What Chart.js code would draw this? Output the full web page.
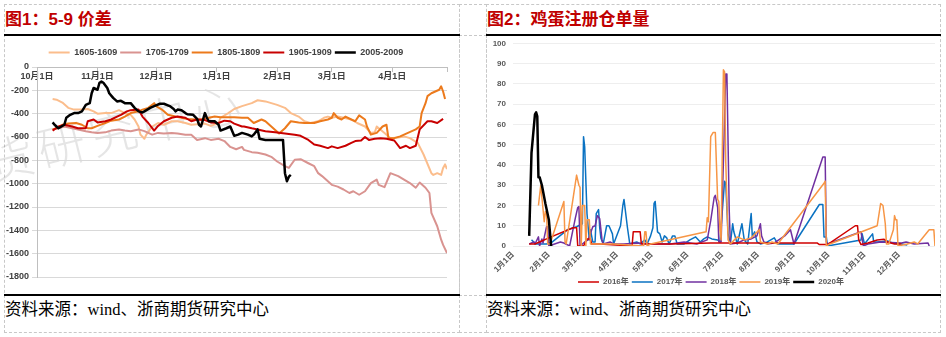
<!DOCTYPE html>
<html lang="zh-CN">
<head>
<meta charset="utf-8">
<title>5-9 价差 / 鸡蛋注册仓单量</title>
<script src="https://cdn.jsdelivr.net/npm/chart.js@4.4.1/dist/chart.umd.min.js"></script>
<style>
  html, body { margin: 0; padding: 0; background: #fff; }
  body { width: 946px; height: 337px; position: relative; overflow: hidden;
         font-family: "Liberation Sans", "Noto Sans CJK SC", sans-serif; }
  .cell { position: absolute; border: 1px dashed #c8c8c8; box-sizing: border-box; }
  .rule { position: absolute; height: 2px; background: #000; }
  .title { position: absolute; top: 9px; font-size: 17px; font-weight: bold; color: #c00000;
           line-height: 22px; white-space: nowrap; }
  .source { position: absolute; top: 300px; font-size: 16.5px; line-height: 20px; color: #000;
            font-family: "Liberation Serif", "Noto Sans CJK SC", serif; white-space: nowrap; }
  .mark { position: absolute; left: -14px; top: 126px; font-size: 48px; letter-spacing: 5px;
          color: rgba(0, 0, 0, 0.10); transform: rotate(-14deg); transform-origin: left center;
          white-space: nowrap; font-family: "Noto Sans CJK SC", sans-serif; font-weight: 300; }
  canvas { position: absolute; }
</style>
</head>
<body>
  <div class="cell" style="left:4px;top:4px;width:456px;height:329px"></div>
  <div class="cell" style="left:459px;top:4px;width:28px;height:32px"></div>
  <div class="cell" style="left:459px;top:35px;width:28px;height:261px"></div>
  <div class="cell" style="left:459px;top:295px;width:28px;height:38px"></div>
  <div class="cell" style="left:486px;top:4px;width:455px;height:329px"></div>

  <div class="title" style="left:5px">图1：5-9 价差</div>
  <div class="title" style="left:487px">图2：鸡蛋注册仓单量</div>
  <div class="rule" style="left:4px;top:34px;width:456px"></div>
  <div class="rule" style="left:486px;top:34px;width:455px"></div>
  <div class="rule" style="left:4px;top:294px;width:456px"></div>
  <div class="rule" style="left:486px;top:294px;width:455px"></div>
  <div class="source" style="left:5px">资料来源：wind、浙商期货研究中心</div>
  <div class="source" style="left:487px">资料来源：wind、浙商期货研究中心</div>

  <div class="mark">货研究中心</div>
  <canvas id="spreadChart" width="453" height="258" style="left:5px;top:36px"></canvas>
  <canvas id="receiptChart" width="453" height="260" style="left:487px;top:36px"></canvas>

<script>
// ---- 图1：5-9 价差（横轴：自10月1日起的天数）----
const spreadMonthDays = [0, 31, 61, 92, 123, 151, 182, 210];
const spreadMonthLabels = ['10月1日', '11月1日', '12月1日', '1月1日', '2月1日', '3月1日', '4月1日', ''];
const spreadNames = ['1605-1609', '1705-1709', '1805-1809', '1905-1909', '2005-2009'];

const days1605 = [8, 10, 13, 16, 19, 23, 26, 29, 31, 35, 38, 42, 45, 48, 50, 52, 53, 55, 56, 59, 62, 65, 69, 72, 76, 79, 82, 86, 89, 93, 94, 98, 101, 105,
  110, 113, 117, 120, 123, 127, 130, 134, 137, 140, 144, 147, 149, 151, 154, 157, 161, 164, 168, 171, 173, 174, 178, 181, 185, 188, 191, 195, 198, 202, 203, 205, 207, 208, 209, 210];
const spread1605 = [-275, -280, -305, -350, -365, -365, -360, -380, -400, -395, -395, -370, -395, -410, -450, -510, -580, -615, -580, -510, -480, -495, -465, -465, -480, -495, -490, -485, -505, -480, -435, -395, -360, -335,
  -310, -285, -295, -310, -325, -350, -395, -425, -465, -480, -465, -435, -425, -435, -425, -435, -450, -480, -510, -565, -560, -510, -565, -610, -605, -595, -610, -650, -750, -910, -925, -910, -925, -865, -835, -875];

const days1705 = [8, 11, 14, 18, 21, 25, 28, 31, 35, 38, 42, 45, 48, 52, 55, 59, 62, 65, 69, 72, 76, 79, 82, 86, 89, 93, 96, 99, 102, 105,
  106, 110, 113, 117, 120, 123, 127, 129, 132, 135, 139, 142, 144, 146, 149, 151, 154, 157, 160, 162, 165, 168, 171, 174, 175, 178, 181, 185, 188, 191, 194, 196, 199, 201, 202, 205, 207, 208, 210];
const spread1705 = [-535, -525, -510, -525, -535, -550, -560, -565, -560, -545, -535, -545, -550, -535, -550, -580, -565, -570, -565, -570, -580, -580, -625, -610, -625, -615, -635, -685, -705, -685,
  -710, -730, -735, -750, -770, -810, -850, -865, -795, -790, -825, -850, -910, -935, -980, -1010, -1025, -1050, -1080, -1065, -1095, -1065, -995, -965, -1010, -1030, -910, -935, -965, -995, -1035, -990, -1035, -1080, -1250, -1365, -1480, -1525, -1595];

const days1805 = [8, 10, 13, 16, 20, 23, 26, 28, 31, 35, 38, 42, 45, 48, 52, 54, 57, 60, 61, 64, 67, 71, 74, 77, 81, 84, 88, 91, 94, 98, 101, 105,
  108, 111, 115, 117, 120, 124, 127, 130, 134, 137, 142, 145, 149, 151, 152, 154, 156, 158, 161, 163, 165, 168, 169, 171, 174, 177, 179, 180, 183, 186, 190, 194, 196, 197, 199, 200, 202, 204, 206, 207, 208, 209];
const spread1805 = [-535, -525, -495, -485, -480, -495, -525, -525, -505, -480, -460, -450, -425, -395, -380, -365, -350, -310, -335, -365, -410, -425, -435, -445, -450, -450, -435, -425, -430, -430, -430, -435,
  -435, -480, -450, -465, -510, -570, -525, -465, -475, -480, -480, -465, -450, -435, -395, -435, -450, -425, -450, -465, -415, -450, -510, -580, -565, -510, -495, -610, -610, -595, -565, -535, -510, -395, -310, -250, -225, -210, -195, -165, -210, -275];

const days1905 = [8, 11, 14, 18, 21, 25, 26, 29, 31, 35, 38, 41, 43, 46, 48, 52, 54, 57, 60, 62, 65, 69, 72, 76, 79, 82, 86, 89, 93, 96, 99, 101, 105,
  106, 110, 113, 117, 122, 127, 132, 135, 139, 142, 145, 149, 151, 154, 158, 161, 163, 166, 168, 170, 173, 176, 179, 183, 186, 189, 191, 194, 196, 200, 202, 205, 208];
const spread1905 = [-545, -510, -495, -510, -525, -525, -465, -450, -475, -465, -450, -425, -410, -380, -370, -365, -425, -480, -545, -505, -465, -435, -425, -435, -465, -450, -455, -475, -480, -460, -465, -485, -510,
  -510, -525, -535, -550, -560, -570, -580, -590, -625, -665, -675, -695, -680, -695, -675, -650, -635, -630, -600, -625, -615, -610, -615, -630, -695, -675, -695, -675, -535, -465, -465, -480, -445];

const days2005 = [8, 9, 11, 14, 15, 17, 19, 21, 23, 25, 27, 28, 29, 31, 32, 33, 34, 36, 37, 39, 41, 43, 45, 48, 50, 52, 54, 55, 58, 60, 63, 65,
  68, 70, 71, 72, 74, 76, 77, 80, 82, 83, 84, 86, 87, 88, 91, 93, 94, 97, 99, 101, 103, 105, 108, 110, 111, 113, 114, 117, 126, 127, 128, 129, 130];
const spread2005 = [-475, -495, -525, -495, -435, -410, -395, -395, -380, -325, -310, -225, -180, -195, -135, -125, -135, -180, -225, -265, -295, -290, -310, -310, -350, -380, -390, -380, -350, -335, -315, -315,
  -335, -360, -380, -365, -370, -395, -405, -410, -445, -495, -510, -395, -435, -465, -465, -495, -545, -525, -510, -590, -580, -565, -580, -595, -580, -535, -615, -625, -625, -910, -980, -940, -925];

// ---- 图2：鸡蛋注册仓单量（横轴：一年中的第几天）----
const receiptMonthDays = [0, 31, 59, 90, 120, 151, 181, 212, 243, 273, 304, 334];
const receiptMonthLabels = ['1月1日', '2月1日', '3月1日', '4月1日', '5月1日', '6月1日', '7月1日', '8月1日', '9月1日', '10月1日', '11月1日', '12月1日'];
const receiptYears = ['2016年', '2017年', '2018年', '2019年', '2020年'];

const days2016 = [14, 19, 33, 52, 55, 56, 61, 64, 67, 68, 75, 103, 104, 110, 111, 116, 136, 171, 263, 265, 272, 296, 298, 299, 301, 307, 315, 321, 324, 330, 336];
const receipts2016 = [1, 1, 4.5, 9, 9, 0, 0, 3.5, 3.5, 1, 1, 0, 7, 7, 1, 1, 1, 1.5, 1.5, 0.7, 0.7, 10, 10, 3, 0.7, 1.5, 3, 3.3, 2, 1, 1];

const days2017 = [16, 18, 19, 22, 29, 34, 47, 55, 60, 61, 62, 64, 66, 67, 69, 71, 72, 74, 75, 76, 78, 81, 83, 86, 87, 93, 95, 96, 99, 101,
  107, 110, 114, 116, 119, 121, 122, 123, 125, 127, 129, 131, 133, 135, 138, 140, 142, 148, 153, 158, 162, 165, 168, 172, 177, 179,
  183, 184, 186, 188, 190, 191, 194, 198, 200, 203, 206, 207, 209, 211, 214, 220, 226, 229, 243, 265, 268, 269, 271, 272,
  301, 302, 304, 311, 312, 315, 324, 328, 336, 341];
const receipts2017 = [3, 2, 1, 1, 1, 2, 8, 9.5, 11, 54, 49, 16, 3, 8, 2, 2, 16, 18, 9, 4, 1, 10, 10, 6, 1, 10, 20, 23, 9, 1,
  2, 1, 3, 1, 5, 9, 21, 22, 7, 6, 2, 5, 4, 1, 5, 5, 1, 1, 3, 4.5, 2, 3.5, 4.5, 3.5, 3, 2,
  32, 31, 6, 1, 11, 7, 1, 11, 3, 1, 16, 4.5, 7, 2, 1, 2, 4, 1, 1, 20.5, 20.5, 4.5, 4.5, 0,
  3, 6, 1, 6, 2, 2, 2.5, 1.5, 1, 0.5];

const days2018 = [14, 18, 19, 22, 23, 25, 26, 29, 30, 31, 41, 44, 49, 54, 56, 57, 58, 62, 65, 69, 71, 73, 75, 77, 78, 84, 87, 96, 107, 119, 136, 148, 159,
  168, 171, 174, 175, 177, 178, 180, 182, 184, 185, 187, 188, 194, 200, 206, 211, 214, 215, 217, 220, 226, 235, 240, 243,
  268, 270, 271, 272, 301, 303, 307, 318, 336, 340, 347, 359, 360];
const receipts2018 = [1, 2, 1, 4.5, 0, 3.5, 1.5, 9.5, 9.5, 0, 2, 1.5, 0, 14, 19, 19.5, 0, 2, 3, 9.5, 10, 15, 13.5, 3, 1, 2, 1, 1, 1.5, 1, 1, 2, 1,
  3, 12.5, 24, 25, 19, 2, 2, 42, 85, 85, 18, 1, 1.5, 3, 3.5, 5, 11, 5, 2, 1, 1.5, 5, 8, 1,
  44, 44, 2, 1, 7, 0, 1, 2, 1.5, 2, 1, 1.5, 0];

const days2019 = [22, 24, 27, 28, 29, 30, 32, 44, 45, 46, 55, 57, 58, 59, 60, 62, 63, 64, 66, 67, 78, 87, 113, 114, 115, 116, 119,
  167, 168, 169, 171, 173, 175, 177, 178, 179, 180, 182, 183, 184, 186, 188, 194, 200, 206, 213, 214, 220, 224, 229,
  269, 270, 271, 274, 315, 318, 320, 322, 323, 325, 327, 329, 330, 331, 332, 333, 341, 347, 350, 360, 364, 365];
const receipts2019 = [20, 30, 12, 17, 17, 1, 1, 22, 2, 1, 35, 30, 29, 0, 20, 20, 0, 13, 13, 1, 1, 1, 0, 7, 7, 0, 1,
  7, 14, 12, 54, 56, 56, 23, 22, 8, 3, 87, 86, 42, 3, 1, 4.5, 3, 4, 8, 2, 1, 2, 1,
  31, 32, 0, 1, 10, 21, 20, 11, 1, 1, 4.5, 8, 15, 13, 13, 0, 1, 2, 1, 8, 8, 0];

const days2020 = [14, 16, 19, 20, 21, 22, 23, 25, 28, 31, 33];
const receipts2020 = [5, 46, 65, 66, 64, 34, 34, 30, 21, 13, 0];

Chart.defaults.font.family = '"Liberation Sans", "Noto Sans CJK SC", sans-serif';
Chart.defaults.animation = false;

function toPoints(days, values) {
    return days.map((d, i) => ({ x: d, y: values[i] }));
}

function lineSet(label, days, values, color, width, order) {
    return {
        label: label,
        data: toPoints(days, values),
        borderColor: color,
        backgroundColor: color,
        borderWidth: width,
        pointRadius: 0,
        tension: 0,
        borderJoinStyle: 'round',
        order: order
    };
}

// 5-9 价差
new Chart(document.getElementById('spreadChart'), {
    type: 'line',
    data: {
        datasets: [
            lineSet(spreadNames[0], days1605, spread1605, '#fbbd8c', 2, 5),
            lineSet(spreadNames[1], days1705, spread1705, '#d99390', 2, 4),
            lineSet(spreadNames[2], days1805, spread1805, '#ec7a1c', 2, 3),
            lineSet(spreadNames[3], days1905, spread1905, '#c80000', 2, 2),
            lineSet(spreadNames[4], days2005, spread2005, '#000000', 2.5, 1)
        ]
    },
    options: {
        responsive: false,
        events: [],
        layout: { padding: { top: 9, right: 11, bottom: 17, left: 0 } },
        plugins: {
            tooltip: { enabled: false },
            legend: {
                position: 'top',
                labels: {
                    usePointStyle: true,
                    pointStyle: 'line',
                    pointStyleWidth: 21,
                    padding: 3,
                    color: '#404040',
                    font: { size: 9, weight: 'bold' },
                    sort: (a, b) => a.datasetIndex - b.datasetIndex
                }
            }
        },
        scales: {
            x: {
                type: 'linear',
                position: { y: 0 },
                min: 0,
                max: 210,
                afterBuildTicks: scale => { scale.ticks = spreadMonthDays.map(value => ({ value })); },
                grid: { display: true, drawOnChartArea: false, drawTicks: true, tickLength: 4, color: '#bfbfbf' },
                border: { display: true, color: '#bfbfbf' },
                ticks: {
                    autoSkip: false,
                    maxRotation: 0,
                    padding: 0,
                    color: '#404040',
                    font: { size: 9, weight: 'bold' },
                    callback: (value, index) => spreadMonthLabels[index]
                }
            },
            y: {
                min: -1800,
                max: 0,
                afterFit: scale => { scale.width = 32; },
                grid: { color: '#d9d9d9', tickLength: 5 },
                border: { color: '#bfbfbf' },
                ticks: {
                    stepSize: 200,
                    padding: 3,
                    color: '#404040',
                    font: { size: 9, weight: 'bold' },
                    callback: value => String(value)
                }
            }
        }
    }
});

// 鸡蛋注册仓单量
new Chart(document.getElementById('receiptChart'), {
    type: 'line',
    data: {
        datasets: [
            lineSet(receiptYears[0], days2016, receipts2016, '#d00000', 1.5, 3),
            lineSet(receiptYears[1], days2017, receipts2017, '#0a72c2', 1.5, 5),
            lineSet(receiptYears[2], days2018, receipts2018, '#7030a0', 1.5, 4),
            lineSet(receiptYears[3], days2019, receipts2019, '#f79646', 1.5, 2),
            lineSet(receiptYears[4], days2020, receipts2020, '#000000', 2.5, 1)
        ]
    },
    options: {
        responsive: false,
        events: [],
        layout: { padding: { top: 7.5, right: 5, bottom: 0, left: 0 } },
        plugins: {
            tooltip: { enabled: false },
            legend: {
                position: 'bottom',
                labels: {
                    usePointStyle: true,
                    pointStyle: 'line',
                    pointStyleWidth: 21,
                    padding: 3,
                    color: '#595959',
                    font: { size: 8, weight: 'bold' },
                    sort: (a, b) => a.datasetIndex - b.datasetIndex
                }
            }
        },
        scales: {
            x: {
                type: 'linear',
                min: 0,
                max: 365,
                afterBuildTicks: scale => { scale.ticks = receiptMonthDays.map(value => ({ value })); },
                afterFit: scale => { scale.height = 29; },
                grid: { display: false, drawTicks: false },
                border: { display: false },
                ticks: {
                    autoSkip: false,
                    minRotation: 45,
                    maxRotation: 45,
                    padding: 4,
                    color: '#595959',
                    font: { size: 8, weight: 'bold' },
                    callback: (value, index) => receiptMonthLabels[index]
                }
            },
            y: {
                min: 0,
                max: 100,
                // fixed width; label padding should not push the plot top down
                afterFit: scale => { scale.width = 26; scale.paddingTop = 4; },
                grid: { color: '#eeeeee', drawTicks: false },
                border: { display: false },
                ticks: {
                    stepSize: 10,
                    padding: 7,
                    color: '#595959',
                    font: { size: 8, weight: 'bold' }
                }
            }
        }
    }
});
</script>
</body>
</html>
